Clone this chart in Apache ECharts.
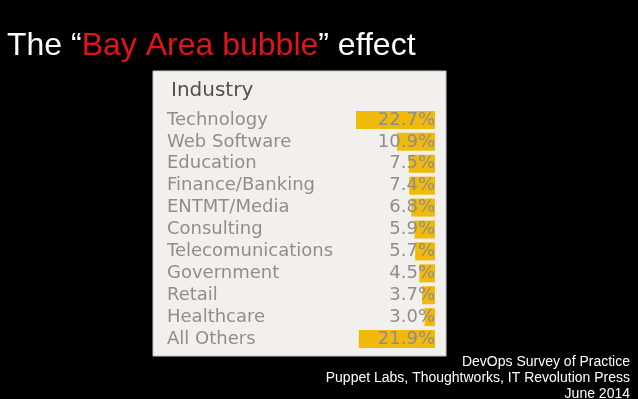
<!DOCTYPE html>
<html>
<head>
<meta charset="utf-8">
<title>Industry</title>
<script src="https://cdn.jsdelivr.net/npm/echarts@6/dist/echarts.min.js"></script>
<style>
  html, body { margin: 0; padding: 0; background: #000; }
  #chart { width: 638px; height: 399px; }
</style>
</head>
<body>
<div id="chart"></div>
<script>
// industry shares from the survey
const industries = ['Technology', 'Web Software', 'Education', 'Finance/Banking', 'ENTMT/Media',
  'Consulting', 'Telecomunications', 'Government', 'Retail', 'Healthcare', 'All Others']
const shares = [22.7, 10.9, 7.5, 7.4, 6.8, 5.9, 5.7, 4.5, 3.7, 3.0, 21.9]
const shareLabels = ['22.7%', '10.9%', '7.5%', '7.4%', '6.8%', '5.9%', '5.7%', '4.5%', '3.7%', '3.0%', '21.9%']
const sourceLines = ['DevOps Survey of Practice', 'Puppet Labs, Thoughtworks, IT Revolution Press', 'June 2014']

const chart = echarts.init(document.getElementById('chart'))

const labelFont = { fontFamily: 'DejaVu Sans', fontSize: 18, color: '#8e8e8e' }

chart.setOption({
  backgroundColor: '#000',
  animation: false,
  graphic: [{
    type: 'rect',
    z: -10,
    shape: { x: 153, y: 71, width: 293, height: 285 },
    style: { fill: '#f2f0ed', stroke: '#c9c7c4', lineWidth: 1 }
  }],
  title: [{
    left: 2,
    top: 25,
    text: '{w|The “}{r|Bay Area bubble}{w|” effect}',
    textStyle: {
      rich: {
        w: { fontFamily: 'Liberation Sans', fontSize: 32, fontWeight: 'normal', color: '#fff' },
        r: { fontFamily: 'Liberation Sans', fontSize: 32, fontWeight: 'normal', color: '#e0141b' }
      }
    }
  }, {
    left: 166,
    top: 76,
    text: 'Industry',
    textStyle: { fontFamily: 'DejaVu Sans', fontSize: 20, fontWeight: 'normal', color: '#505050' }
  }].concat(sourceLines.map((line, i) => ({
    right: 3,
    top: 350 + i * 16,
    text: line,
    textStyle: { fontFamily: 'Liberation Sans', fontSize: 14, fontWeight: 'normal', color: '#fff' }
  }))),
  grid: { left: 348, right: 203, top: 109, bottom: 49 },
  xAxis: {
    type: 'value',
    inverse: true,
    min: 0,
    max: 25,
    show: false
  },
  yAxis: [{
    type: 'category',
    data: industries,
    inverse: true,
    axisLine: { show: false },
    axisTick: { show: false },
    axisLabel: { ...labelFont, interval: 0, align: 'left', margin: 181 }
  }, {
    type: 'category',
    data: shareLabels,
    inverse: true,
    position: 'right',
    axisLine: { show: false },
    axisTick: { show: false },
    axisLabel: { ...labelFont, interval: 0, inside: true, margin: 0 },
    z: 10
  }],
  series: [{
    type: 'bar',
    data: shares,
    barWidth: 18,
    itemStyle: { color: '#f1ba0a' },
    silent: true
  }]
})
</script>
</body>
</html>
